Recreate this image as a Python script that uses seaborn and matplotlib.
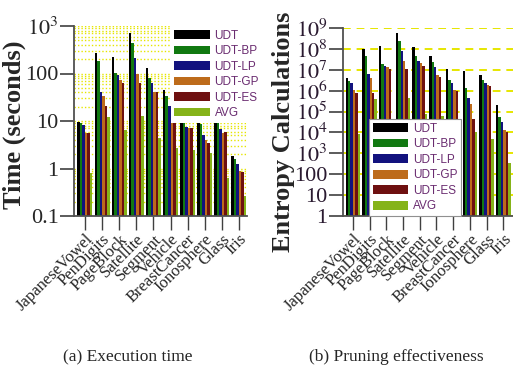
import numpy as np
import pandas as pd
import matplotlib
matplotlib.use("Agg")
import matplotlib.pyplot as plt
from matplotlib.ticker import LogLocator, NullFormatter
import seaborn as sns

datasets = ["JapaneseVowel", "PenDigits", "PageBlock", "Satellite", "Segment",
            "Vehicle", "BreastCancer", "Ionosphere", "Glass", "Iris"]
methods = ["UDT", "UDT-BP", "UDT-LP", "UDT-GP", "UDT-ES", "AVG"]
colors = ["#000000", "#008a00", "#000090", "#d86a00", "#7e0000", "#8fcc00"]

# (a) execution time in seconds
time_udt = [9.7, 266, 226, 700, 130, 46, 14, 11.2, 10.2, 1.83]
time_bp = [9.0, 183, 102, 431, 82, 33.6, 11.2, 8.7, 9.5, 1.6]
time_lp = [8.1, 40, 94, 208, 64, 21, 7.6, 5.1, 6.9, 1.23]
time_gp = [5.5, 33.6, 74, 97.5, 40, 12, 7.0, 4.0, 5.5, 0.88]
time_es = [5.5, 21, 64, 64, 40, 12, 7.0, 3.4, 6.0, 0.83]
time_avg = [0.79, 12.1, 6.4, 12.9, 4.3, 2.66, 2.45, 2.15, 0.64, 0.26]

# (b) entropy calculations, log10 values
ent_udt = [6.60, 8.00, 8.16, 8.78, 8.08, 7.68, 7.04, 6.92, 6.73, 5.33]
ent_bp = [6.44, 7.68, 7.28, 8.40, 7.68, 7.36, 6.52, 6.14, 6.52, 4.74]
ent_lp = [6.36, 6.81, 7.20, 7.92, 7.44, 7.12, 6.36, 5.65, 6.36, 4.50]
ent_gp = [6.04, 6.60, 7.12, 7.44, 7.31, 6.73, 6.04, 5.34, 6.28, 4.10]
ent_es = [5.90, 5.90, 7.04, 7.04, 7.20, 6.65, 5.98, 4.66, 6.22, 4.02]
ent_avg = [3.94, 5.58, 4.58, 5.66, 4.87, 4.79, 4.02, 4.02, 3.71, 2.55]

time_ticks = [0.1, 1, 10, 100, 1000]
time_ticklabels = ["0.1", "1", "10", "100", "$10^3$"]
ent_ticks = [1, 10, 100, 1e3, 1e4, 1e5, 1e6, 1e7, 1e8, 1e9]
ent_ticklabels = ["1", "10", "100", "$10^3$", "$10^4$", "$10^5$", "$10^6$",
                  "$10^7$", "$10^8$", "$10^9$"]

time_series = [time_udt, time_bp, time_lp, time_gp, time_es, time_avg]
ent_series = [ent_udt, ent_bp, ent_lp, ent_gp, ent_es, ent_avg]

rows = []
for m, tv, ev in zip(methods, time_series, ent_series):
    for d, t, e in zip(datasets, tv, ev):
        rows.append({"dataset": d, "method": m, "time": t, "entropy": 10 ** e})
df = pd.DataFrame(rows)

sns.set_style("ticks")
plt.rcParams["font.family"] = ["Liberation Serif", "DejaVu Serif"]
plt.rcParams["mathtext.fontset"] = "stix"

fig = plt.figure(figsize=(5.13, 3.70), dpi=100)
W, H = 513, 370
ax1 = fig.add_axes([74 / W, 1 - 216 / H, (247 - 74) / W, (216 - 26) / H])
ax2 = fig.add_axes([343 / W, 1 - 216 / H, (513 - 343) / W, (216 - 28) / H])

pal = dict(zip(methods, colors))
for ax, col in [(ax1, "time"), (ax2, "entropy")]:
    ax.set_yscale("log")
    sns.barplot(data=df, x="dataset", y=col, hue="method", hue_order=methods,
                order=datasets, palette=pal, width=0.88, gap=0, errorbar=None,
                linewidth=0, ax=ax, legend=True)
    for s in ["top", "right"]:
        ax.spines[s].set_visible(False)
    for s in ["left", "bottom"]:
        ax.spines[s].set_color("#505050")
        ax.spines[s].set_linewidth(1.3)
    ax.set_axisbelow(True)
    ax.set_xlabel("")
    ax.tick_params(axis="y", which="major", length=10, width=1.2, color="#404040",
                   labelsize=16, pad=1)
    ax.tick_params(axis="y", which="minor", length=0)
    ax.tick_params(axis="x", length=10, width=1.0, color="#404040", labelsize=12, pad=1)
    ax.set_xticks(range(len(datasets)))
    ax.set_xticklabels(datasets, rotation=45, ha="right", rotation_mode="anchor")

ax1.set_ylim(0.1, 1000)
ax1.set_xlim(-0.64, 9.47)
ax1.set_yticks(time_ticks)
ax1.set_yticklabels(time_ticklabels)
ax1.yaxis.set_minor_locator(LogLocator(base=10, subs=np.arange(2, 10)))
ax1.yaxis.set_minor_formatter(NullFormatter())
ax1.grid(axis="y", which="both", color="#e6e600", linestyle=(0, (1, 1.5)), linewidth=1.0)
ax1.set_ylabel("Time (seconds)", fontsize=19, fontweight="bold")
ax1.yaxis.set_label_coords(-0.275, 0.48)

ax2.set_ylim(1, 1e9)
ax2.set_xlim(-0.59, 9.58)
ax2.set_yticks(ent_ticks)
ax2.set_yticklabels(ent_ticklabels, color="#2a1a30")
ax2.yaxis.set_minor_locator(LogLocator(base=10, subs=[]))
ax2.grid(axis="y", which="major", color="#e6e600", linestyle=(0, (4, 3)), linewidth=1.4)
ax2.set_ylabel("Entropy Calculations", fontsize=19, fontweight="bold")
ax2.yaxis.set_label_coords(-0.28, 0.45)

legfont = {"family": ["Liberation Sans Narrow", "Liberation Sans", "DejaVu Sans"], "size": 8.5}
for ax, kw in [
    (ax1, dict(loc="upper left", bbox_to_anchor=(0.56, 1.0), frameon=True,
               edgecolor="none")),
    (ax2, dict(loc="lower left", bbox_to_anchor=(0.155, 0.0), frameon=True,
               edgecolor="#909090")),
]:
    handles, labels = ax.get_legend_handles_labels()
    if ax.get_legend() is not None:
        ax.get_legend().remove()
    leg = ax.legend(handles, labels, prop=legfont, handlelength=3.0, handleheight=0.75,
                    handletextpad=0.4, labelspacing=0.3, borderpad=0.3,
                    borderaxespad=0.0, facecolor="white", framealpha=1.0, fancybox=False,
                    **kw)
    leg.get_frame().set_linewidth(0.8)
    for t in leg.get_texts():
        t.set_color("#6a2c70")

fig.text(128 / W, 1 - 357 / H, "(a) Execution time", ha="center", va="center", fontsize=12.5)
fig.text(396 / W, 1 - 357 / H, "(b) Pruning effectiveness", ha="center", va="center", fontsize=12.5)

fig.savefig("out.png", dpi=100)
